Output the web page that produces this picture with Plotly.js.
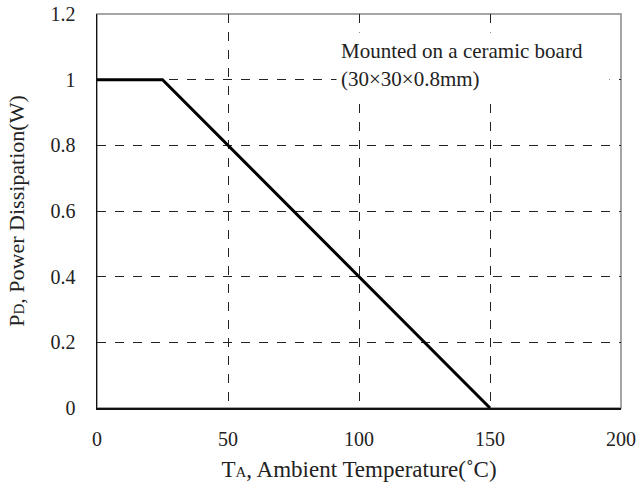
<!DOCTYPE html>
<html><head><meta charset="utf-8">
<script src="https://cdn.plot.ly/plotly-3.0.1.min.js"></script>
<style>html,body{margin:0;padding:0;background:#fff;}</style>
</head><body><div id="chart" style="width:638px;height:490px;"></div>
<script>
const temperature = [0, 25, 150];
const powerDissipation = [1.0, 1.0, 0.0];
const xTicks = [0, 50, 100, 150, 200];
const yTicks = [0, 0.2, 0.4, 0.6, 0.8, 1.0, 1.2];
const yTickText = ['0', '0.2', '0.4', '0.6', '0.8', '1', '1.2'];

const font = 'Liberation Serif, Times New Roman, serif';
const data = [{
  x: temperature, y: powerDissipation, type: 'scatter', mode: 'lines',
  line: {color: '#000', width: 3}, showlegend: false, hoverinfo: 'skip'
}];
const layout = {
  width: 638, height: 490,
  margin: {l: 97, r: 17, t: 14, b: 82},
  paper_bgcolor: '#fff', plot_bgcolor: '#fff',
  font: {family: font, size: 20, color: '#222'},
  xaxis: {
    range: [0, 200], tickvals: xTicks, ticktext: xTicks.map(String),
    showgrid: true, gridcolor: '#222', gridwidth: 1, griddash: 'dash',
    zeroline: false, showline: true, linecolor: '#111', linewidth: 1.5,
    ticks: '', ticklabelstandoff: 12, tickfont: {size: 20, family: font, color: '#222'},
    title: {text: 'T<span style="font-size:15px">A</span>, Ambient Temperature(\u02DAC)', font: {size: 23, family: font, color: '#222'}, standoff: 12}
  },
  yaxis: {
    range: [0, 1.2], tickvals: yTicks, ticktext: yTickText,
    showgrid: true, gridcolor: '#222', gridwidth: 1, griddash: 'dash',
    zeroline: false, showline: true, linecolor: '#111', linewidth: 1.5,
    ticks: '', ticklabelstandoff: 16, tickfont: {size: 20, family: font, color: '#222'},
    title: {text: 'P<span style="font-size:15px">D</span>, Power Dissipation(W)', font: {size: 22, family: font, color: '#222'}, standoff: 20}
  },
  shapes: [{type: 'rect', xref: 'paper', yref: 'paper', x0: 0, x1: 1, y0: 0, y1: 1,
    line: {color: '#888', width: 1.5}, layer: 'below'}],
  annotations: [{
    xref: 'paper', yref: 'paper', x: 0.457, y: 0.955, xanchor: 'left', yanchor: 'top',
    text: 'Mounted on a ceramic board<br>(30×30×0.8mm)', align: 'left', valign: 'middle',
    width: 264, height: 56, showarrow: false,
    bgcolor: '#fff', borderpad: 4,
    font: {size: 21, family: font, color: '#222'}
  }]
};
Plotly.newPlot('chart', data, layout, {displayModeBar: false, staticPlot: true});
</script></body></html>
